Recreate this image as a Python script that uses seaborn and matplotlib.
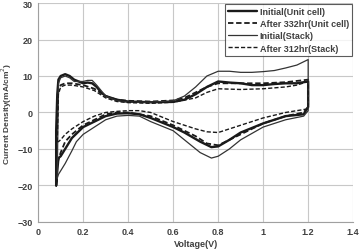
import numpy as np
import pandas as pd
import matplotlib
matplotlib.use("Agg")
import matplotlib.pyplot as plt
import seaborn as sns

# cyclic voltammograms, each loop = forward sweep then reverse sweep
unit_init_v = [0.08, 0.08, 0.085, 0.09, 0.1, 0.12, 0.14, 0.16, 0.18, 0.2, 0.22, 0.24, 0.26, 0.28,
               0.3, 0.35, 0.4, 0.5, 0.6, 0.65, 0.7, 0.75, 0.8, 0.85, 0.9, 0.95, 1.0, 1.05, 1.1,
               1.15, 1.2, 1.2, 1.18, 1.1, 1.0, 0.9, 0.85, 0.8, 0.77, 0.72, 0.65, 0.6, 0.5, 0.45,
               0.4, 0.35, 0.3, 0.25, 0.2, 0.15, 0.12, 0.1, 0.09, 0.085, 0.08]
unit_init_i = [-20, -5, 5, 9, 10, 10.5, 10, 9, 8.5, 8, 8.2, 8, 7, 5.5,
               4.5, 3.5, 3, 2.8, 2.9, 3.5, 5, 7, 8.5, 8.2, 8, 7.5, 7.5, 7.8, 8,
               8, 8.5, 1.5, -0.5, -1, -3, -5.5, -7.5, -9.3, -9.5, -8, -5.5, -4, -1.5, -0.5,
               -0.2, -0.3, -1, -2.5, -4, -7, -10, -12, -12.5, -16, -20]

unit_aged_v = [0.08, 0.085, 0.09, 0.1, 0.12, 0.15, 0.2, 0.25, 0.3, 0.35, 0.4, 0.5, 0.6, 0.65,
               0.7, 0.75, 0.8, 0.9, 1.0, 1.1, 1.2, 1.2, 1.18, 1.1, 1.0, 0.9, 0.8, 0.75, 0.7, 0.6,
               0.5, 0.4, 0.35, 0.3, 0.25, 0.2, 0.15, 0.12, 0.1, 0.09, 0.08]
unit_aged_i = [-15, 0, 6, 7.5, 8, 8, 7.5, 6.5, 4.5, 3.5, 3.2, 3, 3.3, 4,
               5.5, 7, 8, 8, 8, 8.3, 9, 1.5, 0, -1, -3, -6, -9, -8.5, -6.5, -3.5,
               -1, 0, 0, -0.5, -2, -3.5, -6, -8, -11, -13, -15]

stack_init_v = [0.085, 0.09, 0.1, 0.12, 0.14, 0.16, 0.18, 0.2, 0.22, 0.24, 0.26, 0.28, 0.3,
                0.35, 0.4, 0.5, 0.6, 0.65, 0.7, 0.75, 0.8, 0.85, 0.9, 0.95, 1.0, 1.05, 1.1,
                1.15, 1.2, 1.2, 1.18, 1.1, 1.0, 0.9, 0.85, 0.8, 0.77, 0.72, 0.65, 0.6, 0.5,
                0.45, 0.4, 0.35, 0.3, 0.25, 0.2, 0.17, 0.15, 0.12, 0.1, 0.09, 0.085]
stack_init_i = [-18, 8, 9.5, 10, 9.5, 8.5, 8.5, 8.5, 8.8, 8.8, 7.5, 6, 4.5,
                3.2, 2.8, 2.8, 3.2, 4.5, 7, 10, 11.3, 11.3, 11, 11, 11.2, 11.5, 12.2,
                13, 14.5, 0.5, -1, -2, -4, -7.5, -10, -12, -12.5, -11, -7.5, -5, -2.5,
                -1, -0.8, -1, -2, -4, -6, -8, -10.5, -14, -16, -17, -18]

stack_aged_v = [0.085, 0.09, 0.1, 0.12, 0.15, 0.2, 0.25, 0.3, 0.35, 0.4, 0.5, 0.6, 0.7, 0.75,
                0.8, 0.9, 1.0, 1.1, 1.15, 1.2, 1.2, 1.1, 1.0, 0.9, 0.8, 0.75, 0.7, 0.6, 0.5,
                0.45, 0.4, 0.35, 0.3, 0.25, 0.2, 0.15, 0.12, 0.1, 0.09, 0.085]
stack_aged_i = [-8, 5, 7, 7.5, 7.5, 7, 6, 4, 3, 2.7, 2.5, 2.8, 4, 5.5,
                6.5, 6.3, 6.5, 7, 7.5, 8.5, 1, 0, -1.5, -3.5, -5.5, -5.3, -4.5, -2.5, 0,
                0.5, 0.5, 0.3, 0, -1, -2.5, -4.5, -6, -7.5, -8, -8]

labels = ["Initial(Unit cell)", "After 332hr(Unit cell)", "Initial(Stack)", "After 312hr(Stack)"]
x_ticks = [0, 0.2, 0.4, 0.6, 0.8, 1, 1.2, 1.4]
x_tick_labels = ["0", "0.2", "0.4", "0.6", "0.8", "1", "1.2", "1.4"]
y_ticks = [-30, -20, -10, 0, 10, 20, 30]

frames = []
for lab, v, i in zip(labels,
                     [unit_init_v, unit_aged_v, stack_init_v, stack_aged_v],
                     [unit_init_i, unit_aged_i, stack_init_i, stack_aged_i]):
    frames.append(pd.DataFrame({"Voltage": v, "Current": i, "series": lab}))
df = pd.concat(frames, ignore_index=True)

sns.set_theme(style="whitegrid")
plt.rcParams["font.family"] = ["Liberation Sans", "DejaVu Sans"]

fig = plt.figure(figsize=(3.6, 2.53), dpi=100)
ax = fig.add_axes([0.106, 0.119, 0.875, 0.865])

styles = {
    "Initial(Unit cell)": dict(color="#1a1a1a", lw=1.7, ls="-"),
    "After 332hr(Unit cell)": dict(color="#1a1a1a", lw=1.3, ls=(0, (3, 1.5))),
    "Initial(Stack)": dict(color="#333333", lw=0.9, ls="-"),
    "After 312hr(Stack)": dict(color="#1a1a1a", lw=1.0, ls=(0, (3, 1.5))),
}
for lab in labels:
    st = styles[lab]
    sns.lineplot(data=df[df["series"] == lab], x="Voltage", y="Current", sort=False,
                 estimator=None, ax=ax, color=st["color"], linewidth=st["lw"],
                 linestyle=st["ls"], label=lab)

ax.set_xlim(0, 1.4)
ax.set_ylim(-30, 30)
ax.set_xticks(x_ticks)
ax.set_xticklabels(x_tick_labels)
ax.set_yticks(y_ticks)
ax.grid(True, color="#c8c8c8", linewidth=0.8)
for side in ["top", "right"]:
    ax.spines[side].set_visible(False)
for side in ["left", "bottom"]:
    ax.spines[side].set_color("#a0a0a0")
    ax.spines[side].set_linewidth(0.8)
ax.tick_params(axis="both", labelsize=6.5, colors="#404040", length=0, pad=4)
for t in ax.get_xticklabels() + ax.get_yticklabels():
    t.set_fontweight("bold")
ax.set_xlabel("Voltage(V)", fontsize=6.5, fontweight="bold", color="#404040", labelpad=2)
ax.set_ylabel("Current Density(mA/cm$^2$)", fontsize=6, fontweight="bold",
              color="#404040", labelpad=2)

leg = ax.legend(loc="upper right", fontsize=6.5, frameon=True, fancybox=False,
                borderaxespad=0.1, handlelength=3.2, handletextpad=0.3,
                labelspacing=0.35, borderpad=0.35)
leg.get_frame().set_edgecolor("#333333")
leg.get_frame().set_linewidth(0.8)
for t in leg.get_texts():
    t.set_fontweight("bold")
    t.set_color("#404040")

fig.savefig("out.png", dpi=100)
